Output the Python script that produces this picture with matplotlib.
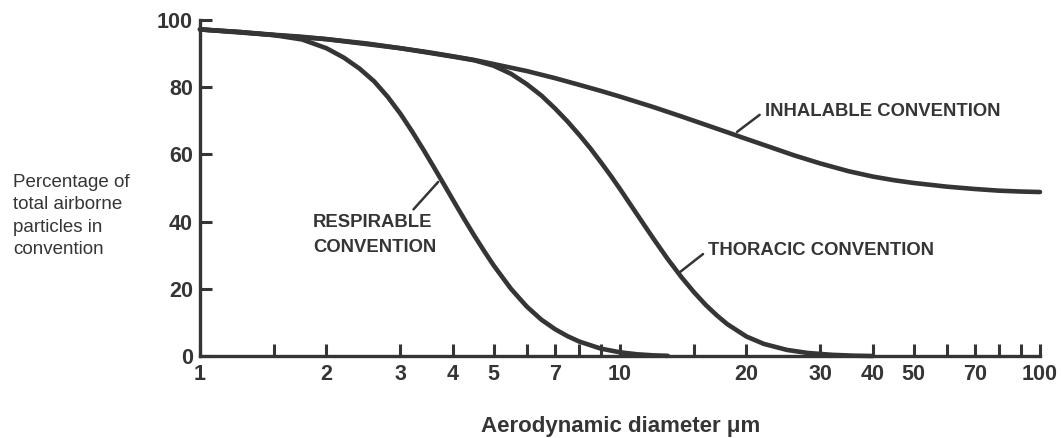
import matplotlib
matplotlib.use("Agg")
import matplotlib.pyplot as plt
from matplotlib.ticker import FixedLocator, NullFormatter

# ---- data ----
inhal_d = [1, 1.25, 1.5, 1.75, 2, 2.5, 3, 3.5, 4, 4.5, 5, 6, 7, 8, 9, 10, 12, 14, 16,
           18, 20, 23, 26, 30, 35, 40, 45, 50, 60, 70, 80, 90, 100]
inhal_v = [97.2, 96.4, 95.6, 95.0, 94.3, 93.0, 91.6, 90.4, 89.2, 88.1, 86.9, 84.8,
           82.7, 80.7, 78.9, 77.2, 74.1, 71.3, 68.8, 66.6, 64.6, 62.0, 59.7, 57.3,
           55.0, 53.4, 52.3, 51.5, 50.4, 49.7, 49.2, 48.95, 48.8]

resp_d = [1, 1.25, 1.5, 1.75, 2, 2.2, 2.4, 2.6, 2.8, 3.0, 3.2, 3.4, 3.6, 3.8, 4.0,
          4.25, 4.5, 4.75, 5.0, 5.5, 6.0, 6.5, 7.0, 7.5, 8.0, 9.0, 10, 11, 12, 13]
resp_v = [97.2, 96.4, 95.5, 94.2, 91.6, 88.8, 85.5, 81.7, 77.1, 72.1, 66.8, 61.5,
          56.3, 51.3, 46.5, 40.9, 35.8, 31.2, 27.0, 20.0, 14.7, 10.8, 8.0, 5.9,
          4.3, 2.2, 1.1, 0.5, 0.2, 0.05]

thor_d = [1, 2, 3, 4, 4.5, 5, 5.5, 6, 6.5, 7, 7.5, 8, 8.5, 9, 9.5, 10, 11, 12, 13,
          14, 15, 16, 17, 18, 20, 22, 25, 28, 32, 36, 40]
thor_v = [97.2, 94.3, 91.6, 89.1, 88.0, 86.4, 84.0, 80.9, 77.5, 73.7, 69.8, 65.8,
          61.8, 57.7, 53.7, 49.7, 42.0, 35.0, 28.8, 23.5, 19.0, 15.2, 12.1, 9.5,
          5.8, 3.6, 1.8, 0.9, 0.35, 0.1, 0.0]

x_major = [1, 2, 3, 4, 5, 7, 10, 20, 30, 40, 50, 70, 100]
x_major_labels = ["1", "2", "3", "4", "5", "7", "10", "20", "30", "40", "50", "70", "100"]
x_minor = [1.5, 6, 8, 9, 15, 60, 80, 90]
y_ticks = [0, 20, 40, 60, 80, 100]
y_tick_labels = ["0", "20", "40", "60", "80", "100"]

labels = {
    "inhal": "INHALABLE CONVENTION",
    "resp": "RESPIRABLE\nCONVENTION",
    "thor": "THORACIC CONVENTION",
}
y_title = "Percentage of\ntotal airborne\nparticles in\nconvention"
x_title = "Aerodynamic diameter \u03bcm"

# ---- figure ----
plt.rcParams['font.family'] = ['Liberation Sans', 'DejaVu Sans']
ink = "#353535"

W, H = 1063, 438
fig = plt.figure(figsize=(W / 100, H / 100), dpi=100)
ax = fig.add_axes([200 / W, (H - 356) / H, 840 / W, 336 / H])

ax.set_xscale('log')
ax.set_xlim(1, 100)
ax.set_ylim(0, 100)

lw = 3.3
for dd, vv in [(inhal_d, inhal_v), (resp_d, resp_v), (thor_d, thor_v)]:
    ax.plot(dd, vv, color=ink, lw=lw, solid_capstyle='round',
            solid_joinstyle='round', clip_on=False, zorder=3)

for s in ['top', 'right']:
    ax.spines[s].set_visible(False)
for s in ['left', 'bottom']:
    ax.spines[s].set_linewidth(2.4)
    ax.spines[s].set_color(ink)

ax.xaxis.set_major_locator(FixedLocator(x_major))
ax.set_xticklabels(x_major_labels)
ax.xaxis.set_minor_locator(FixedLocator(x_minor))
ax.xaxis.set_minor_formatter(NullFormatter())
ax.set_yticks(y_ticks)
ax.set_yticklabels(y_tick_labels)

ax.tick_params(axis='both', which='both', direction='in', length=8.8, width=2.2,
               color=ink, labelcolor=ink, labelsize=15.5)
ax.tick_params(axis='x', which='both', pad=6)
ax.tick_params(axis='y', which='both', pad=5)
for t in ax.get_xticklabels() + ax.get_yticklabels():
    t.set_fontweight('bold')

ann_kw = dict(fontsize=13.3, fontweight='bold', color=ink)
lead = dict(arrowstyle='-', color=ink, lw=1.8, shrinkA=2, shrinkB=0)

ax.annotate(labels["inhal"], xy=(19.0, 66.7), xytext=(22.1, 72.9),
            ha='left', va='center', arrowprops=dict(relpos=(0, 0.5), **lead), **ann_kw)
ax.annotate(labels["thor"], xy=(13.9, 25.0), xytext=(16.2, 31.5),
            ha='left', va='center', arrowprops=dict(relpos=(0, 0.5), **lead), **ann_kw)
ax.annotate(labels["resp"], xy=(3.69, 51.8), xytext=(1.858, 42.2),
            ha='left', va='top', linespacing=1.6,
            arrowprops=dict(relpos=(0.78, 1.0), **lead), **ann_kw)

fig.text(13 / W, 1 - 174 / H, y_title, ha='left', va='top', fontsize=13.5,
         linespacing=1.42, color=ink)
fig.text(621 / W, 1 - 432 / H, x_title, ha='center', va='baseline', fontsize=16,
         fontweight='bold', color=ink)

fig.savefig("out.png", dpi=100)
